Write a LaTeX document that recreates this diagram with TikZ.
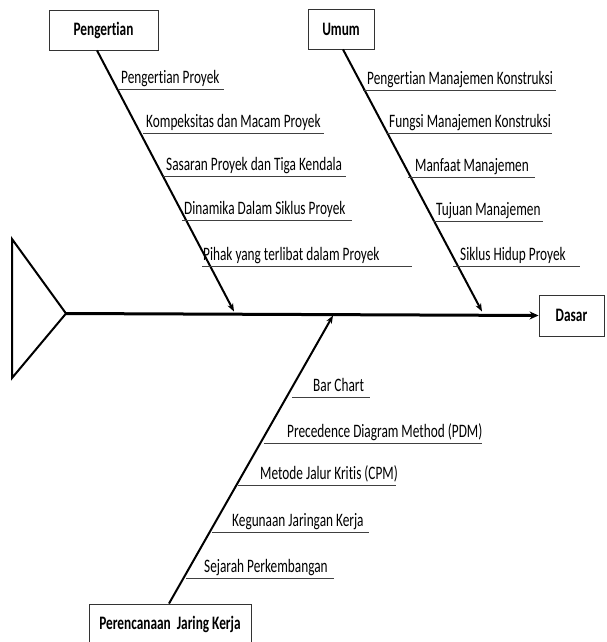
\documentclass[tikz,border=0pt]{standalone}
\usepackage{fontspec}
\setmainfont[FakeStretch=0.70,Ligatures=NoCommon]{Carlito}
\usetikzlibrary{arrows.meta}
\begin{document}
\begin{tikzpicture}[x=1pt,y=-1pt,
  catbox/.style={draw=black!80,line width=0.9pt,minimum height=40pt,inner sep=0pt,font=\fontsize{19}{22}\selectfont\bfseries},
  lab/.style={anchor=base west,inner sep=0pt,font=\fontsize{19}{22}\selectfont},
  rib/.style={draw=black!75,line width=1pt},
  bone/.style={draw=black,line width=2pt,-{Stealth[length=8pt,width=6pt]}},
  spine/.style={draw=black,line width=3pt,-{Stealth[length=9pt,width=8pt]}},
  head/.style={draw=black,line width=2pt,line join=miter},
]
\useasboundingbox (0,0) rectangle (607,642);

% category boxes
\node[catbox,minimum width=109pt] (pen) at (103.5,30) {Pengertian};
\node[catbox,minimum width=66pt] (umum) at (341,29) {Umum};
\node[catbox,minimum width=65pt,minimum height=41pt] (dasar) at (571.5,315.5) {Dasar};
\node[catbox,minimum width=162pt] (plan) at (170,624) {Perencanaan\ \ Jaring Kerja};

% head triangle and spine
\coordinate (apex) at (66,313.5);
\coordinate (ttop) at (12,239);
\coordinate (tbot) at (12,378);
\draw[head] (ttop) -- (apex) -- (tbot) -- cycle;
\draw[spine] (apex) -- (dasar.west);

% bones
\coordinate (tpen) at (234,311.5);
\coordinate (tumum) at (482,311.5);
\coordinate (tplan) at (333,315.5);
\draw[bone] ([xshift=-6.5pt]pen.south) -- (tpen);
\draw[bone] ([xshift=2pt]umum.south) -- (tumum);
\draw[bone] ([xshift=-1pt]plan.north) -- (tplan);

% Pengertian ribs
\draw[rib] (118,89) -- (224,89);
\draw[rib] (143,133) -- (324,133);
\draw[rib] (163,176) -- (346,176);
\draw[rib] (182,220) -- (352,220);
\draw[rib] (202,266) -- (412,266);
\node[lab] (p1) at (121,83) {Pengertian Proyek};
\node[lab] (p2) at (146,127) {Kompeksitas dan Macam Proyek};
\node[lab] (p3) at (166,170) {Sasaran Proyek dan Tiga Kendala};
\node[lab] (p4) at (184,214) {Dinamika Dalam Siklus Proyek};
\node[lab] (p5) at (203,260) {Pihak yang terlibat dalam Proyek};

% Umum ribs
\draw[rib] (363,90) -- (556,90);
\draw[rib] (387,133) -- (552,133);
\draw[rib] (408,177) -- (535,177);
\draw[rib] (433,221) -- (543,221);
\draw[rib] (453,266) -- (580,266);
\node[lab] (u1) at (367,84) {Pengertian Manajemen Konstruksi};
\node[lab] (u2) at (389,127) {Fungsi Manajemen Konstruksi};
\node[lab] (u3) at (415,171) {Manfaat Manajemen};
\node[lab] (u4) at (436,215) {Tujuan Manajemen};
\node[lab] (u5) at (460,260) {Siklus Hidup Proyek};

% Perencanaan ribs
\draw[rib] (292,397) -- (370,397);
\draw[rib] (264,443) -- (482,443);
\draw[rib] (238,485) -- (396,485);
\draw[rib] (212,532) -- (369,532);
\draw[rib] (186,578) -- (334,578);
\node[lab] (b1) at (313,391) {Bar Chart};
\node[lab] (b2) at (287,437) {Precedence Diagram Method (PDM)};
\node[lab] (b3) at (260,479) {Metode Jalur Kritis (CPM)};
\node[lab] (b4) at (232,526) {Kegunaan Jaringan Kerja};
\node[lab] (b5) at (204,572) {Sejarah Perkembangan};
\end{tikzpicture}
\end{document}
